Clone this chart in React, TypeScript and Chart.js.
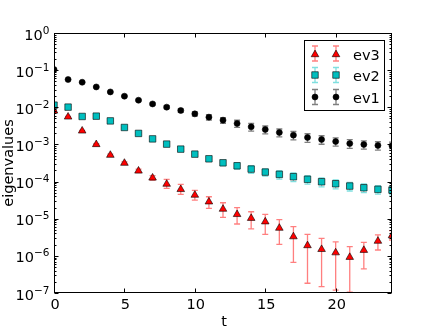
import React, { useEffect, useRef } from 'react';
import { Chart, registerables } from 'chart.js';

Chart.register(...registerables);

// ---- data ----
const tValues = [0, 1, 2, 3, 4, 5, 6, 7, 8, 9, 10, 11, 12, 13, 14, 15, 16, 17, 18, 19, 20, 21, 22, 23, 24];

const ev1 = [0.1038, 0.0559, 0.0473, 0.0353, 0.0259, 0.0199, 0.0155, 0.0123, 0.0101, 0.0082, 0.00665, 0.00542, 0.0045,
  0.00367, 0.00297, 0.00253, 0.0021, 0.00178, 0.00154, 0.00136, 0.0012, 0.00106, 0.001, 0.00094, 0.00092];
const ev1Err = [0.002, 0.0015, 0.0015, 0.0012, 0.001, 0.0009, 0.0008, 0.0008, 0.0009, 0.0009, 0.0009, 0.0009, 0.0008,
  0.0008, 0.0007, 0.0006, 0.0005, 0.00045, 0.0004, 0.00035, 0.0003, 0.00028, 0.00025, 0.00024, 0.00023];

const ev2 = [0.0114, 0.0101, 0.00566, 0.00577, 0.0043, 0.00286, 0.00198, 0.00141, 0.00102, 0.000748, 0.000548, 0.00041,
  0.00032, 0.000266, 0.000217, 0.00018, 0.000156, 0.000135, 0.000115, 0.0000988, 0.0000873, 0.0000757, 0.0000681,
  0.0000617, 0.0000591];
const ev2Err = [0.0003, 0.0003, 0.0002, 0.0002, 0.00015, 0.00012, 0.0001, 0.00009, 0.00008, 0.00007, 0.00006, 0.00005,
  0.00005, 0.00005, 0.00005, 0.00004, 0.00004, 0.000035, 0.00003, 0.000027, 0.000024, 0.00002, 0.000018, 0.000016,
  0.000015];

const ev3 = [0.008, 0.00552, 0.00232, 0.001, 0.000515, 0.000314, 0.000194, 0.000126, 0.0000857, 0.0000617, 0.0000434,
  0.0000286, 0.0000182, 0.0000131, 0.0000103, 0.0000083, 0.0000056, 0.0000033, 0.0000019, 0.0000015, 0.00000122,
  0.00000092, 0.00000142, 0.0000025, 0.0000035];
const ev3Low = [0.0078, 0.0053, 0.00224, 0.00095, 0.00048, 0.00029, 0.000175, 0.000108, 6.56e-5, 4.53e-5, 3.18e-5,
  1.9e-5, 1.09e-5, 7.2e-6, 5.3e-6, 3.81e-6, 2.05e-6, 6.7e-7, 1.83e-7, 1.49e-7, 1.19e-7, 1.05e-7, 4.45e-7, 1.44e-6,
  2.67e-6];
const ev3High = [0.0082, 0.0057, 0.0024, 0.00105, 0.00055, 0.00034, 0.000215, 0.000145, 1.15e-4, 8.41e-5, 5.8e-5,
  3.9e-5, 2.69e-5, 1.98e-5, 1.54e-5, 1.31e-5, 9.4e-6, 6.1e-6, 3.81e-6, 2.97e-6, 2.37e-6, 1.77e-6, 2.32e-6, 3.65e-6,
  4.75e-6];

const seriesNames = ['ev3', 'ev2', 'ev1'];
const seriesColors = ['#ff0000', '#00bfbf', '#000000'];
const errColors = ['rgba(255,0,0,0.5)', 'rgba(0,191,191,0.5)', 'rgba(0,0,0,0.5)'];
const xTickValues = [0, 5, 10, 15, 20];
const yTickExponents = [0, -1, -2, -3, -4, -5, -6, -7];
const xLabel = 't';
const yLabel = 'eigenvalues';

const FONT = "'DejaVu Sans', sans-serif";
const MINUS = '\u2212';

function drawErrBar(ctx: CanvasRenderingContext2D, px: number, y1: number, y2: number, cap: number) {
  ctx.moveTo(px, y1);
  ctx.lineTo(px, y2);
  ctx.moveTo(px - cap, y1);
  ctx.lineTo(px + cap, y1);
  ctx.moveTo(px - cap, y2);
  ctx.lineTo(px + cap, y2);
}

function drawMarker(ctx: CanvasRenderingContext2D, style: string, r: number, x: number, y: number, fill: string) {
  ctx.beginPath();
  if (style === 'circle') {
    ctx.arc(x, y, r, 0, Math.PI * 2);
  } else if (style === 'rect') {
    const s = r * Math.SQRT1_2;
    ctx.rect(x - s, y - s, 2 * s, 2 * s);
  } else {
    ctx.moveTo(x, y - r);
    ctx.lineTo(x + r * Math.cos(Math.PI / 6), y + r * Math.sin(Math.PI / 6));
    ctx.lineTo(x - r * Math.cos(Math.PI / 6), y + r * Math.sin(Math.PI / 6));
    ctx.closePath();
  }
  ctx.fillStyle = fill;
  ctx.fill();
  ctx.lineWidth = 0.6;
  ctx.strokeStyle = '#000';
  ctx.stroke();
}

const decorPlugin = {
  id: 'decor',
  beforeDatasetsDraw(chart: any) {
    const { ctx, chartArea: a, scales } = chart;
    const xs = scales.x;
    const ys = scales.y;
    ctx.save();
    ctx.beginPath();
    ctx.rect(a.left, a.top, a.right - a.left, a.bottom - a.top);
    ctx.clip();
    chart.data.datasets.forEach((ds: any) => {
      ctx.beginPath();
      ctx.strokeStyle = ds.errColor;
      ctx.lineWidth = 1.3;
      ds.data.forEach((p: any, i: number) => {
        const px = xs.getPixelForValue(p.x);
        const y1 = ys.getPixelForValue(ds.errLow[i]);
        const y2 = ys.getPixelForValue(ds.errHigh[i]);
        drawErrBar(ctx, px, y1, y2, 3);
      });
      ctx.stroke();
    });
    ctx.restore();
  },
  afterDraw(chart: any) {
    const { ctx, chartArea: a, scales } = chart;
    const xs = scales.x;
    const ys = scales.y;
    ctx.save();
    const L = Math.round(a.left) + 0.5;
    const R = Math.round(a.right) - 0.5;
    const T = Math.round(a.top) + 0.5;
    const B = Math.round(a.bottom) - 0.5;
    // ticks
    ctx.strokeStyle = '#000';
    ctx.lineWidth = 1;
    ctx.beginPath();
    xTickValues.forEach((v) => {
      const px = Math.round(xs.getPixelForValue(v)) + 0.5;
      ctx.moveTo(px, B);
      ctx.lineTo(px, B - 4);
      ctx.moveTo(px, T);
      ctx.lineTo(px, T + 4);
    });
    yTickExponents.forEach((e) => {
      for (let m = 1; m <= 9; m++) {
        const v = m * Math.pow(10, e);
        if (v > ys.max * 1.0001 || v < ys.min * 0.9999) continue;
        const py = Math.round(ys.getPixelForValue(v)) + 0.5;
        const len = m === 1 ? 4 : 2;
        ctx.moveTo(L, py);
        ctx.lineTo(L + len, py);
        ctx.moveTo(R, py);
        ctx.lineTo(R - len, py);
      }
    });
    ctx.stroke();
    // frame
    ctx.strokeRect(L, T, R - L, B - T);

    // tick labels
    ctx.fillStyle = '#000';
    ctx.textBaseline = 'alphabetic';
    ctx.font = `14.5px ${FONT}`;
    ctx.textAlign = 'center';
    xTickValues.forEach((v) => {
      const px = xs.getPixelForValue(v);
      ctx.fillText(String(v), px + 1, a.bottom + 15.5);
    });
    yTickExponents.forEach((e) => {
      const py = ys.getPixelForValue(Math.pow(10, e));
      const expStr = String(e).replace('-', MINUS);
      ctx.textAlign = 'right';
      ctx.font = `10.5px ${FONT}`;
      const right = a.left - 4.5;
      ctx.fillText(expStr, right, py + 0.5);
      const ew = ctx.measureText(expStr).width;
      ctx.font = `14.5px ${FONT}`;
      ctx.fillText('10', right - ew, py + 6.5);
    });

    // axis labels
    ctx.font = `14.5px ${FONT}`;
    ctx.textAlign = 'center';
    ctx.fillText(xLabel, (a.left + a.right) / 2 + 1, 326);
    ctx.save();
    ctx.translate(12.5, (a.top + a.bottom) / 2);
    ctx.rotate(-Math.PI / 2);
    ctx.fillText(yLabel, 0, 0);
    ctx.restore();

    // legend
    const lx = 304.5;
    const ly = 40.5;
    const lw = 80;
    const lh = 70;
    ctx.fillStyle = '#fff';
    ctx.fillRect(lx, ly, lw, lh);
    ctx.strokeStyle = '#000';
    ctx.lineWidth = 1;
    ctx.strokeRect(lx, ly, lw, lh);
    const rows = [53.5, 75, 97];
    chart.data.datasets.forEach((ds: any, r: number) => {
      const cy = rows[r];
      [315, 336].forEach((mx) => {
        ctx.beginPath();
        ctx.strokeStyle = ds.errColor;
        ctx.lineWidth = 1.3;
        drawErrBar(ctx, mx, cy - 7.5, cy + 7.5, 3);
        ctx.stroke();
        const off = ds.pointStyle === 'triangle' ? 1 : 0;
        drawMarker(ctx, ds.pointStyle, ds.pointRadius, mx, cy + off, ds.backgroundColor);
      });
      ctx.fillStyle = '#000';
      ctx.textAlign = 'left';
      ctx.font = `14.5px ${FONT}`;
      ctx.fillText(ds.label, 353, cy + 6);
    });
    ctx.restore();
  },
};

export default function App() {
  const ref = useRef<HTMLCanvasElement>(null);
  useEffect(() => {
    document.body.style.margin = '0';
    const pts = (vals: number[]) => tValues.map((t, i) => ({ x: t, y: vals[i] }));
    const common = { clip: 0, borderColor: '#000', borderWidth: 0.6 };
    const chart = new Chart(ref.current!, {
      type: 'scatter',
      data: {
        datasets: [
          {
            ...common,
            label: seriesNames[0],
            data: pts(ev3),
            pointStyle: 'triangle',
            pointRadius: 4.4,
            backgroundColor: seriesColors[0],
            errLow: ev3Low,
            errHigh: ev3High,
            errColor: errColors[0],
          } as any,
          {
            ...common,
            label: seriesNames[1],
            data: pts(ev2),
            pointStyle: 'rect',
            pointRadius: 4.6,
            backgroundColor: seriesColors[1],
            errLow: ev2.map((v, i) => v - ev2Err[i]),
            errHigh: ev2.map((v, i) => v + ev2Err[i]),
            errColor: errColors[1],
          } as any,
          {
            ...common,
            label: seriesNames[2],
            data: pts(ev1),
            pointStyle: 'circle',
            pointRadius: 3,
            backgroundColor: seriesColors[2],
            errLow: ev1.map((v, i) => v - ev1Err[i]),
            errHigh: ev1.map((v, i) => v + ev1Err[i]),
            errColor: errColors[2],
          } as any,
        ],
      },
      options: {
        animation: false,
        responsive: false,
        events: [],
        layout: { padding: { left: 54, right: 44, top: 33, bottom: 34 }, autoPadding: false },
        plugins: { legend: { display: false }, tooltip: { enabled: false } },
        scales: {
          x: { type: 'linear', min: 0, max: 24, display: false },
          y: { type: 'logarithmic', min: 1e-7, max: 1, display: false },
        },
      },
      plugins: [decorPlugin],
    });
    return () => chart.destroy();
  }, []);
  return (
    <div style={{ width: 436, height: 327, background: '#fff' }}>
      <canvas ref={ref} width={436} height={327} style={{ display: 'block' }} />
    </div>
  );
}
